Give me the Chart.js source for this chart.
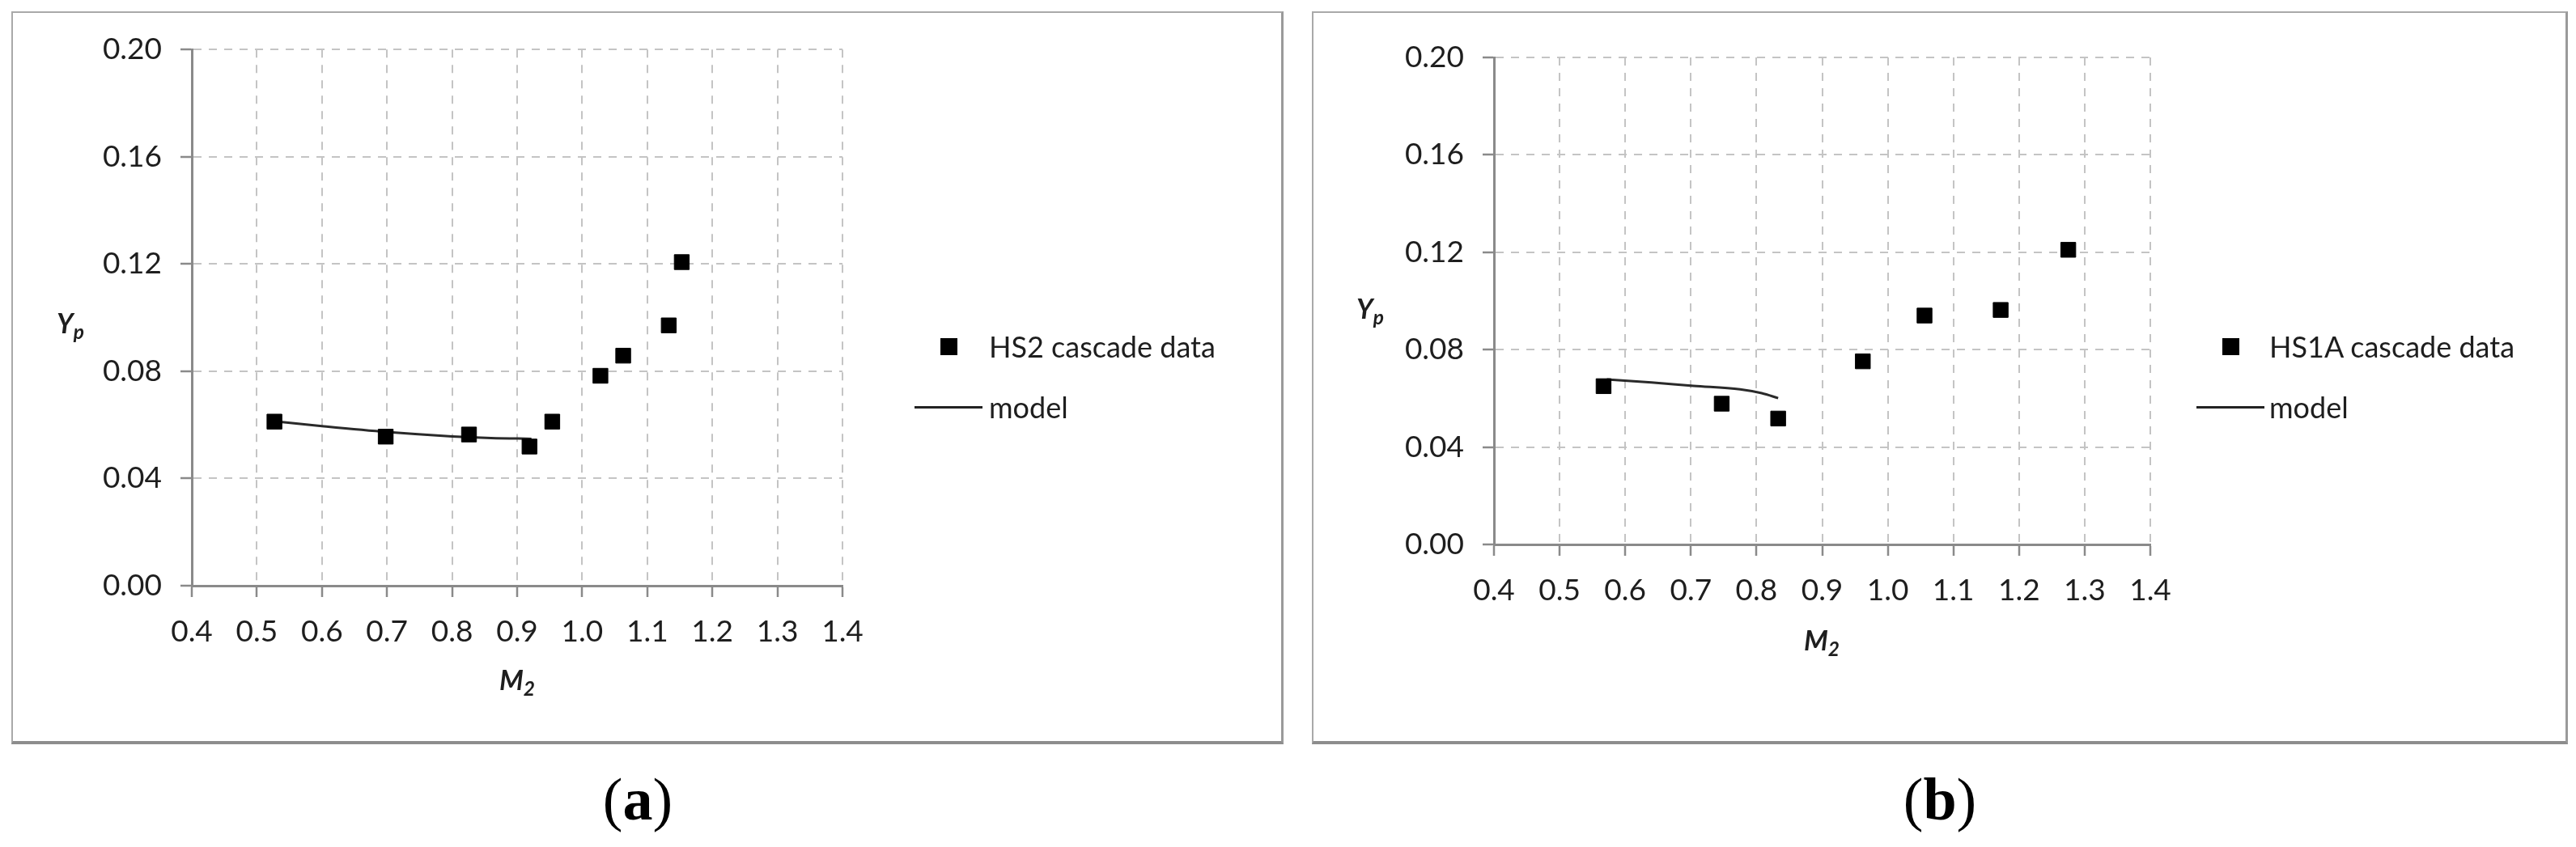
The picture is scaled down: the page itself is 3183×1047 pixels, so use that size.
<!DOCTYPE html>
<html>
<head>
<meta charset="utf-8">
<script src="https://cdn.jsdelivr.net/npm/chart.js@4.4.0/dist/chart.umd.min.js"></script>
<style>
  html, body { margin: 0; padding: 0; background: #fff; }
  #page { position: relative; width: 3183px; height: 1047px; overflow: hidden; background: #fff; font-family: Lato, sans-serif; color: #222; }
  .panel { position: absolute; box-sizing: border-box; border: 2px solid #a9a9a9; border-right: 3px solid #9a9a9a; border-bottom: 4px solid #8d8d8d; }
  canvas { position: absolute; }
  .axt { position: absolute; font-weight: 700; font-style: italic; font-size: 34px; line-height: 1; transform: translate(-50%, -50%); white-space: nowrap; color: #1e1e1e; }
  .axt sub { font-size: 0.72em; vertical-align: -0.28em; }
  .leg { position: absolute; font-size: 36px; line-height: 1; white-space: nowrap; transform: translateY(-50%); color: #1e1e1e; }
  .sq { position: absolute; width: 21px; height: 21px; background: #000; }
  .ln { position: absolute; height: 3px; background: #222; }
  .cap { position: absolute; font-family: "Liberation Serif", "Times New Roman", serif; font-size: 74px; line-height: 1; transform: translate(-50%, -50%); color: #000; }
</style>
</head>
<body>
<div id="page">
  <div class="panel" style="left:14px; top:14px; width:1572px; height:906px;"></div>
  <div class="panel" style="left:1621px; top:14px; width:1552px; height:906px;"></div>
  <canvas id="chartA" width="1566" height="900" style="left:16px; top:16px;"></canvas>
  <canvas id="chartB" width="1546" height="900" style="left:1623px; top:16px;"></canvas>

  <div class="axt" style="left:87px; top:402px;">Y<sub>p</sub></div>
  <div class="axt" style="left:639px; top:843px;">M<sub>2</sub></div>
  <div class="axt" style="left:1693px; top:384px;">Y<sub>p</sub></div>
  <div class="axt" style="left:2251px; top:794px;">M<sub>2</sub></div>

  <div id="legendA"></div>
  <div id="legendB"></div>

  <div class="cap" style="left:788px; top:988px;">(<b>a</b>)</div>
  <div class="cap" style="left:2397px; top:988px;">(<b>b</b>)</div>
</div>

<script>
// panel (a): HS2 cascade
const hs2M2 = [0.527, 0.698, 0.826, 0.919, 0.954, 1.028, 1.063, 1.133, 1.153];
const hs2Yp = [0.0612, 0.0556, 0.0564, 0.0519, 0.0612, 0.0783, 0.0858, 0.0971, 0.1207];
const modelAM2 = [0.527, 0.6, 0.7, 0.8, 0.86, 0.922];
const modelAYp = [0.0613, 0.0595, 0.0573, 0.0557, 0.0551, 0.0548];

// panel (b): HS1A cascade
const hs1aM2 = [0.567, 0.747, 0.833, 0.962, 1.056, 1.172, 1.275];
const hs1aYp = [0.0650, 0.0578, 0.0517, 0.0752, 0.0940, 0.0963, 0.1210];
const modelBM2 = [0.572, 0.64, 0.704, 0.775, 0.808, 0.833];
const modelBYp = [0.0678, 0.0665, 0.0651, 0.0637, 0.0621, 0.0601];

// axis ticks
const xTicks = [0.4, 0.5, 0.6, 0.7, 0.8, 0.9, 1.0, 1.1, 1.2, 1.3, 1.4];
const yTicks = [0.00, 0.04, 0.08, 0.12, 0.16, 0.20];

const pts = (xs, ys) => xs.map((x, i) => ({ x: x, y: ys[i] }));

const AXIS = '#8a8a8a';
const GRID = '#c4c4c4';

function axisOpts(tickValues, digits, fitFn) {
    return {
        type: 'linear',
        min: tickValues[0],
        max: tickValues[tickValues.length - 1],
        afterBuildTicks: s => { s.ticks = tickValues.map(v => ({ value: v })); },
        afterFit: fitFn,
        grid: { color: GRID, lineWidth: 2, drawTicks: true, tickLength: 14, tickColor: AXIS, tickWidth: 2.5, tickBorderDash: [] },
        border: { display: true, color: AXIS, width: 3, dash: [10, 9] },
        ticks: {
            color: '#1e1e1e',
            font: { family: 'Lato', size: 37 },
            padding: digits === 1 ? 21 : 23,
            autoSkip: false,
            maxRotation: 0,
            callback: v => Number(v).toFixed(digits)
        }
    };
}

// box = chart area inside the canvas
function buildChart(id, box, s) {
    return new Chart(document.getElementById(id), {
        type: 'scatter',
        data: {
            datasets: [
                {
                    label: s.dataLabel,
                    data: pts(s.m2, s.yp),
                    pointStyle: 'rect',
                    pointRadius: 13,
                    pointHoverRadius: 13,
                    backgroundColor: '#000',
                    borderColor: '#000',
                    borderWidth: 1,
                    showLine: false
                },
                {
                    label: 'model',
                    type: 'line',
                    data: pts(s.modelM2, s.modelYp),
                    borderColor: '#2a2a2a',
                    borderWidth: 3,
                    pointRadius: 0,
                    fill: false,
                    cubicInterpolationMode: 'monotone',
                    showLine: true
                }
            ]
        },
        options: {
            responsive: false,
            animation: false,
            events: [],
            layout: { padding: { left: 0, top: box.top, right: box.w - box.right, bottom: 0 } },
            plugins: { legend: { display: false }, tooltip: { enabled: false } },
            scales: {
                x: axisOpts(xTicks, 1, sc => { sc.height = box.h - box.bottom; }),
                y: axisOpts(yTicks, 2, sc => { sc.width = box.left; })
            }
        }
    });
}

// html legend from the chart's own datasets
function buildLegend(chart, el, pos) {
    const ds = chart.data.datasets;
    el.innerHTML =
        '<div class="sq" style="left:' + (pos.mark - 10) + 'px; top:' + (pos.y1 - 10) + 'px;"></div>' +
        '<div class="leg" style="left:' + pos.text + 'px; top:' + pos.y1 + 'px;">' + ds[0].label + '</div>' +
        '<div class="ln" style="left:' + (pos.mark - 42) + 'px; width:84px; top:' + (pos.y2 - 1) + 'px;"></div>' +
        '<div class="leg" style="left:' + pos.text + 'px; top:' + pos.y2 + 'px;">' + ds[1].label + '</div>';
}

const chartA = buildChart('chartA', { left: 221, right: 1025, top: 44, bottom: 708, w: 1566, h: 900 },
    { dataLabel: 'HS2 cascade data', m2: hs2M2, yp: hs2Yp, modelM2: modelAM2, modelYp: modelAYp });
const chartB = buildChart('chartB', { left: 223, right: 1034, top: 55, bottom: 657, w: 1546, h: 900 },
    { dataLabel: 'HS1A cascade data', m2: hs1aM2, yp: hs1aYp, modelM2: modelBM2, modelYp: modelBYp });

buildLegend(chartA, document.getElementById('legendA'), { mark: 1172, text: 1222, y1: 428, y2: 503 });
buildLegend(chartB, document.getElementById('legendB'), { mark: 2756, text: 2804, y1: 428, y2: 503 });
</script>
</body>
</html>
